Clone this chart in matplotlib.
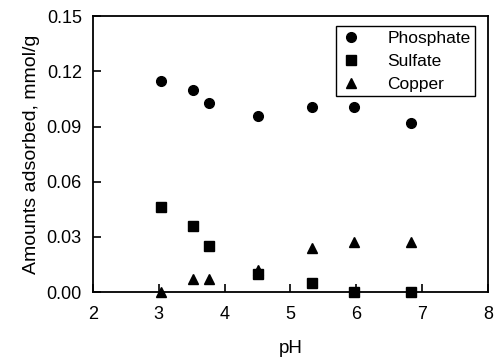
import matplotlib
matplotlib.use('Agg')
import matplotlib.pyplot as plt

plt.rcParams['font.family'] = ['Liberation Sans', 'DejaVu Sans']

ph_phos = [3.03, 3.52, 3.77, 4.51, 5.33, 5.96, 6.83]
phosphate = [0.1147, 0.1098, 0.1029, 0.0958, 0.1007, 0.1007, 0.0918]

ph_sulf = [3.03, 3.52, 3.77, 4.51, 5.33, 5.96, 6.83]
sulfate = [0.046, 0.036, 0.025, 0.010, 0.005, 0.0, 0.0]

ph_cu = [3.03, 3.52, 3.77, 4.51, 5.33, 5.96, 6.83]
copper = [0.0, 0.007, 0.007, 0.012, 0.024, 0.027, 0.027]

xticks = [2, 3, 4, 5, 6, 7, 8]
yticks = [0.00, 0.03, 0.06, 0.09, 0.12, 0.15]

fig = plt.figure(figsize=(4.94, 3.58), dpi=100)
ax = fig.add_axes([0.188, 0.184, 0.80, 0.771])

ax.plot(ph_phos, phosphate, 'o', color='black', markersize=7, label='Phosphate', clip_on=False)
ax.plot(ph_sulf, sulfate, 's', color='black', markersize=6.5, label='Sulfate', clip_on=False)
ax.plot(ph_cu, copper, '^', color='black', markersize=7, label='Copper', clip_on=False)

ax.set_xlim(2, 8)
ax.set_ylim(0, 0.15)
ax.set_xticks(xticks)
ax.set_yticks(yticks)
ax.set_yticklabels(['%.2f' % v for v in yticks])
ax.tick_params(direction='in', length=6, width=1.2, labelsize=13)
ax.tick_params(axis='x', pad=10)
ax.tick_params(axis='y', pad=8)
for s in ax.spines.values():
    s.set_linewidth(1.3)

ax.set_xlabel('pH', fontsize=13.5, labelpad=12)
ax.set_ylabel('Amounts adsorbed, mmol/g', fontsize=14, labelpad=5)

leg = ax.legend(loc='upper right', bbox_to_anchor=(0.975, 0.975), fontsize=12.5,
                fancybox=False, edgecolor='black', framealpha=1,
                handlelength=1.2, handletextpad=1.5, borderpad=0.25,
                labelspacing=0.45, borderaxespad=0.2)
leg.get_frame().set_linewidth(1.0)

fig.savefig('out.png', dpi=100)
